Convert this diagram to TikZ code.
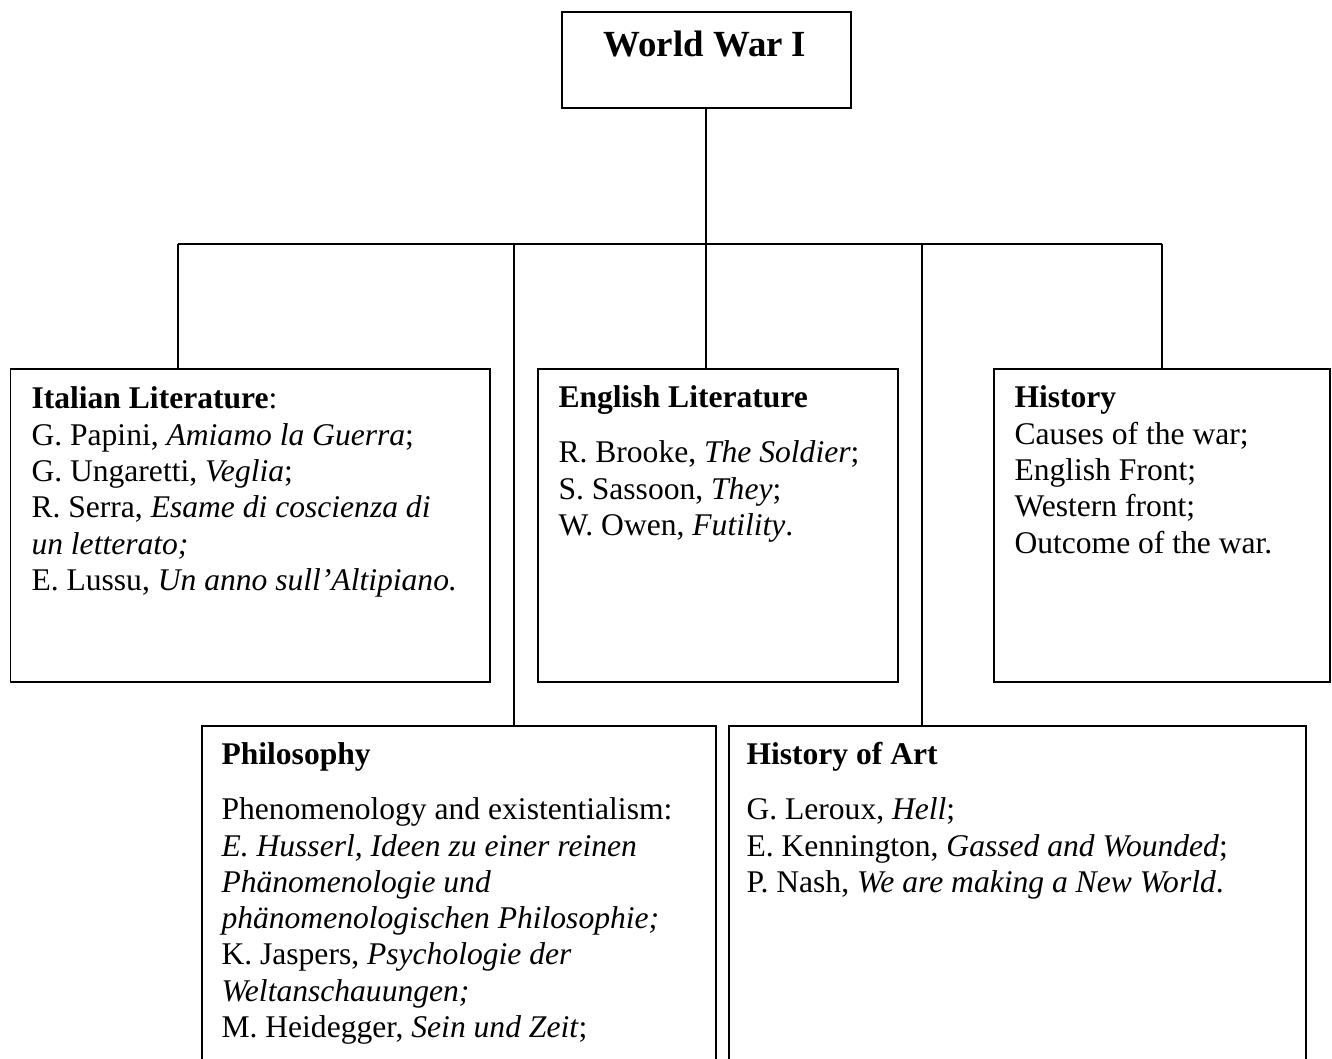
\documentclass[tikz,border=0pt]{standalone}
\usepackage{fontspec}
\setmainfont{Liberation Serif}
\usetikzlibrary{fit}
\tikzset{
  box/.style={draw, line width=0.6pt, rectangle, inner sep=0pt},
  txt/.style={inner sep=0pt, anchor=base west, font=\fontsize{12}{13.8}\selectfont},
  link/.style={line width=0.6pt},
}
\begin{document}
\begin{tikzpicture}[x=0.38pt, y=-0.38pt]
\useasboundingbox (0,0) rectangle (1332,1059);
\clip (0,0) rectangle (1332,1059);
% boxes
\node[box, fit={(562,12) (851,108)}] (top) {};
\node[box, fit={(10.5,369) (490,682)}] (ital) {};
\node[box, fit={(538,369) (898,682)}] (eng) {};
\node[box, fit={(994,369) (1330,682)}] (hist) {};
\node[box, fit={(202,726) (716,1120)}] (phil) {};
\node[box, fit={(729,726) (1306,1120)}] (hoa) {};
% title
\node[inner sep=0pt, anchor=base, font=\fontsize{14}{16}\selectfont\bfseries] (title) at (705,57) {World War I};
% texts
\node[txt] (italtxt) at (31,409) {\parbox[t]{12cm}{%
\textbf{Italian Literature}:\\
G. Papini, \textit{Amiamo la Guerra};\\
G. Ungaretti, \textit{Veglia};\\
R. Serra, \textit{Esame di coscienza di}\\
\textit{un letterato;}\\
E. Lussu, \textit{Un anno sull’Altipiano.}}};
\node[txt] (engtxt) at (558,408) {\parbox[t]{12cm}{%
\textbf{English Literature}\\[7pt]
R. Brooke, \textit{The Soldier};\\
S. Sassoon, \textit{They};\\
W. Owen, \textit{Futility}.}};
\node[txt] (histtxt) at (1014,408) {\parbox[t]{12cm}{%
\textbf{History}\\
Causes of the war;\\
English Front;\\
Western front;\\
Outcome of the war.}};
\node[txt] (philtxt) at (221,765) {\parbox[t]{12cm}{%
\textbf{Philosophy}\\[7pt]
Phenomenology and existentialism:\\
\textit{E. Husserl, Ideen zu einer reinen}\\
\textit{Phänomenologie und}\\
\textit{phänomenologischen Philosophie;}\\
K. Jaspers, \textit{Psychologie der}\\
\textit{Weltanschauungen;}\\
M. Heidegger, \textit{Sein und Zeit};}};
\node[txt] (hoatxt) at (746,765) {\parbox[t]{12cm}{%
\textbf{History of Art}\\[7pt]
G. Leroux, \textit{Hell};\\
E. Kennington, \textit{Gassed and Wounded};\\
P. Nash, \textit{We are making a New World}.}};
% connectors
\coordinate (hub) at (706,244);
\coordinate (hl) at (178,244);
\coordinate (hr) at (1162,244);
\coordinate (hp) at (514,244);
\coordinate (ha) at (922,244);
\draw[link] (top.south -| hub) -- (hub);
\draw[link] (hl) -- (hr);
\draw[link] (hl) -- (hl |- ital.north);
\draw[link] (hp) -- (hp |- phil.north);
\draw[link] (hub) -- (hub |- eng.north);
\draw[link] (ha) -- (ha |- hoa.north);
\draw[link] (hr) -- (hr |- hist.north);
\end{tikzpicture}
\end{document}
